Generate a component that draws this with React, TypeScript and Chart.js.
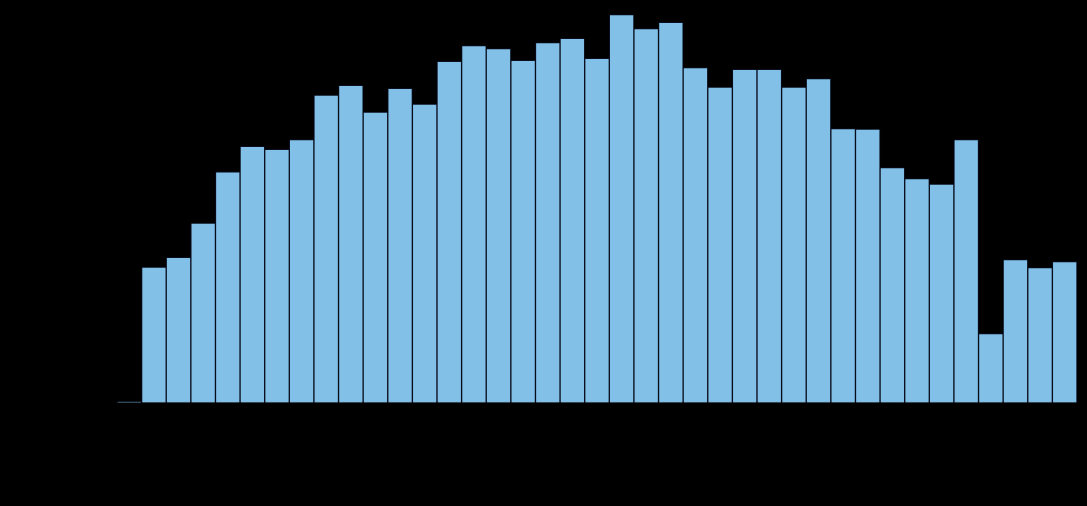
import React, { useEffect, useRef } from "react";
import { Chart, registerables } from "chart.js";

Chart.register(...registerables);

const categories: string[] = [
  "1", "2", "3", "4", "5", "6", "7", "8", "9", "10",
  "11", "12", "13", "14", "15", "16", "17", "18", "19", "20",
  "21", "22", "23", "24", "25", "26", "27", "28", "29", "30",
  "31", "32", "33", "34", "35", "36", "37", "38", "39",
];

const values: number[] = [
  0.2, 22.3, 23.9, 29.5, 37.9, 42.1, 41.6, 43.2, 50.5, 52.1,
  47.7, 51.6, 49.0, 56.0, 58.6, 58.1, 56.2, 59.1, 59.8, 56.5,
  63.7, 61.4, 62.4, 55.0, 51.8, 54.7, 54.7, 51.8, 53.2, 45.0,
  44.9, 38.6, 36.8, 35.9, 43.2, 11.4, 23.5, 22.2, 23.2,
];

const yTicks: number[] = [0, 10, 20, 30, 40, 50, 60];

export default function App() {
  const ref = useRef<HTMLCanvasElement | null>(null);

  useEffect(() => {
    document.body.style.margin = "0";
    document.body.style.background = "#000";
    if (!ref.current) return;
    const chart = new Chart(ref.current, {
      type: "bar",
      data: {
        labels: categories,
        datasets: [
          {
            label: "values",
            data: values,
            backgroundColor: "rgb(130,192,232)",
            borderColor: "rgb(10,14,30)",
            borderWidth: 1,
            borderRadius: 1,
            categoryPercentage: 1,
            barPercentage: 1,
          },
        ],
      },
      options: {
        responsive: false,
        animation: false,
        maintainAspectRatio: false,
        layout: { padding: { top: 2, right: 10, left: 0, bottom: 0 } },
        plugins: { legend: { display: false }, tooltip: { enabled: false } },
        scales: {
          x: {
            grid: { display: false },
            border: { color: "#000" },
            ticks: { color: "#000" },
            afterFit: (s: any) => {
              s.height = 103;
            },
          },
          y: {
            min: 0,
            max: 64.4,
            grid: { color: "rgba(0,0,0,0.15)" },
            border: { color: "#000" },
            ticks: { color: "#000", stepSize: 10 },
            afterBuildTicks: (s: any) => {
              s.ticks = yTicks.map((v) => ({ value: v }));
            },
            afterFit: (s: any) => {
              s.width = 117;
            },
          },
        },
      },
    });
    return () => chart.destroy();
  }, []);

  return (
    <div style={{ width: 1087, height: 506, background: "#000" }}>
      <canvas ref={ref} width={1087} height={506} />
    </div>
  );
}
